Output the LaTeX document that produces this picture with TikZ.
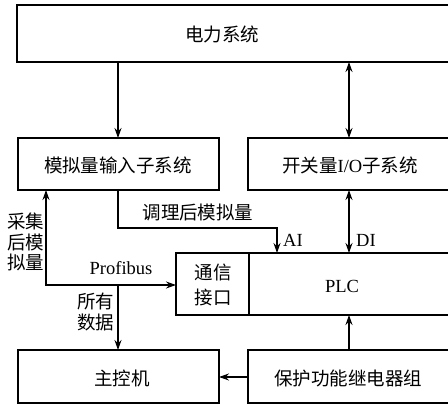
\documentclass[tikz,border=0pt]{standalone}
\usepackage{fontspec}
\setmainfont{Liberation Serif}
\newfontfamily\cjk{Noto Sans CJK SC}
\usetikzlibrary{arrows.meta}
\begin{document}
\begin{tikzpicture}[x=1pt,y=-1pt,
  box/.style={draw,line width=1.1pt,anchor=north west,inner sep=0pt,outer sep=0pt},
  txt/.style={inner sep=0pt,font=\fontsize{18.5}{20.5}\selectfont\cjk,align=center},
  lat/.style={inner sep=0pt,font=\fontsize{18.5}{21}\selectfont},
  conn/.style={line width=1.1pt,-{Stealth[length=10pt,width=7pt]}},
  dconn/.style={line width=1.1pt,{Stealth[length=10pt,width=7pt]}-{Stealth[length=10pt,width=7pt]}}]
\useasboundingbox (0,0) rectangle (448,404);
\fill[white] (0,0) rectangle (448,404);
% boxes
\node[box,minimum width=435pt,minimum height=57pt] (top) at (17,5) {};
\node[box,minimum width=201pt,minimum height=52pt] (ana) at (18,138) {};
\node[box,minimum width=204pt,minimum height=52pt] (dig) at (248,138) {};
\node[box,minimum width=276pt,minimum height=62pt] (plc) at (176,253) {};
\node[box,minimum width=73pt,minimum height=62pt] (com) at (176,253) {};
\node[box,minimum width=201pt,minimum height=53pt] (mst) at (18,350) {};
\node[box,minimum width=204pt,minimum height=53pt] (rel) at (248,350) {};
% box texts
\node[txt] (ttop) at (222,34) {电力系统};
\node[txt] (tana) at (118,165) {模拟量输入子系统};
\node[txt] (tdig) at (350,165) {开关量{\rmfamily\fontsize{18.5}{21}\selectfont I/O}子系统};
\node[txt] (tcom) at (213,285) {通信\\[5pt]接口};
\node[lat] (tplc) at (342,286) {PLC};
\node[txt] (tmst) at (122,378) {主控机};
\node[txt] (trel) at (348,378) {保护功能继电器组};
% connectors
\draw[conn] (top.south -| 118,0) -- (ana.north -| 118,0);
\draw[dconn] (top.south -| 349,0) -- (dig.north -| 349,0);
\draw[dconn] (dig.south -| 349,0) -- (plc.north -| 349,0);
\coordinate (c1) at (118,228);
\coordinate (c2) at (277,228);
\draw[conn] (ana.south -| c1) -- (c1) -- (c2) -- (plc.north -| c2);
\coordinate (c3) at (46,285);
\draw[dconn] (ana.south -| c3) -- (c3) -- (c3 -| plc.west);
\coordinate (c4) at (118,285);
\draw[conn] (c4) -- (mst.north -| c4);
\draw[conn] (rel.west |- 0,377) -- (mst.east |- 0,377);
\draw[conn] (rel.north -| 349,0) -- (plc.south -| 349,0);
% labels
\node[txt] (l1) at (198,212) {调理后模拟量};
\node[lat,anchor=west] (l2) at (283,240) {AI};
\node[lat,anchor=west] (l3) at (356,240) {DI};
\node[txt] (l4) at (26,242) {采集\\后模\\拟量};
\node[lat] (l5) at (121,268) {Profibus};
\node[txt] (l6) at (96,312) {所有\\数据};
\end{tikzpicture}
\end{document}
